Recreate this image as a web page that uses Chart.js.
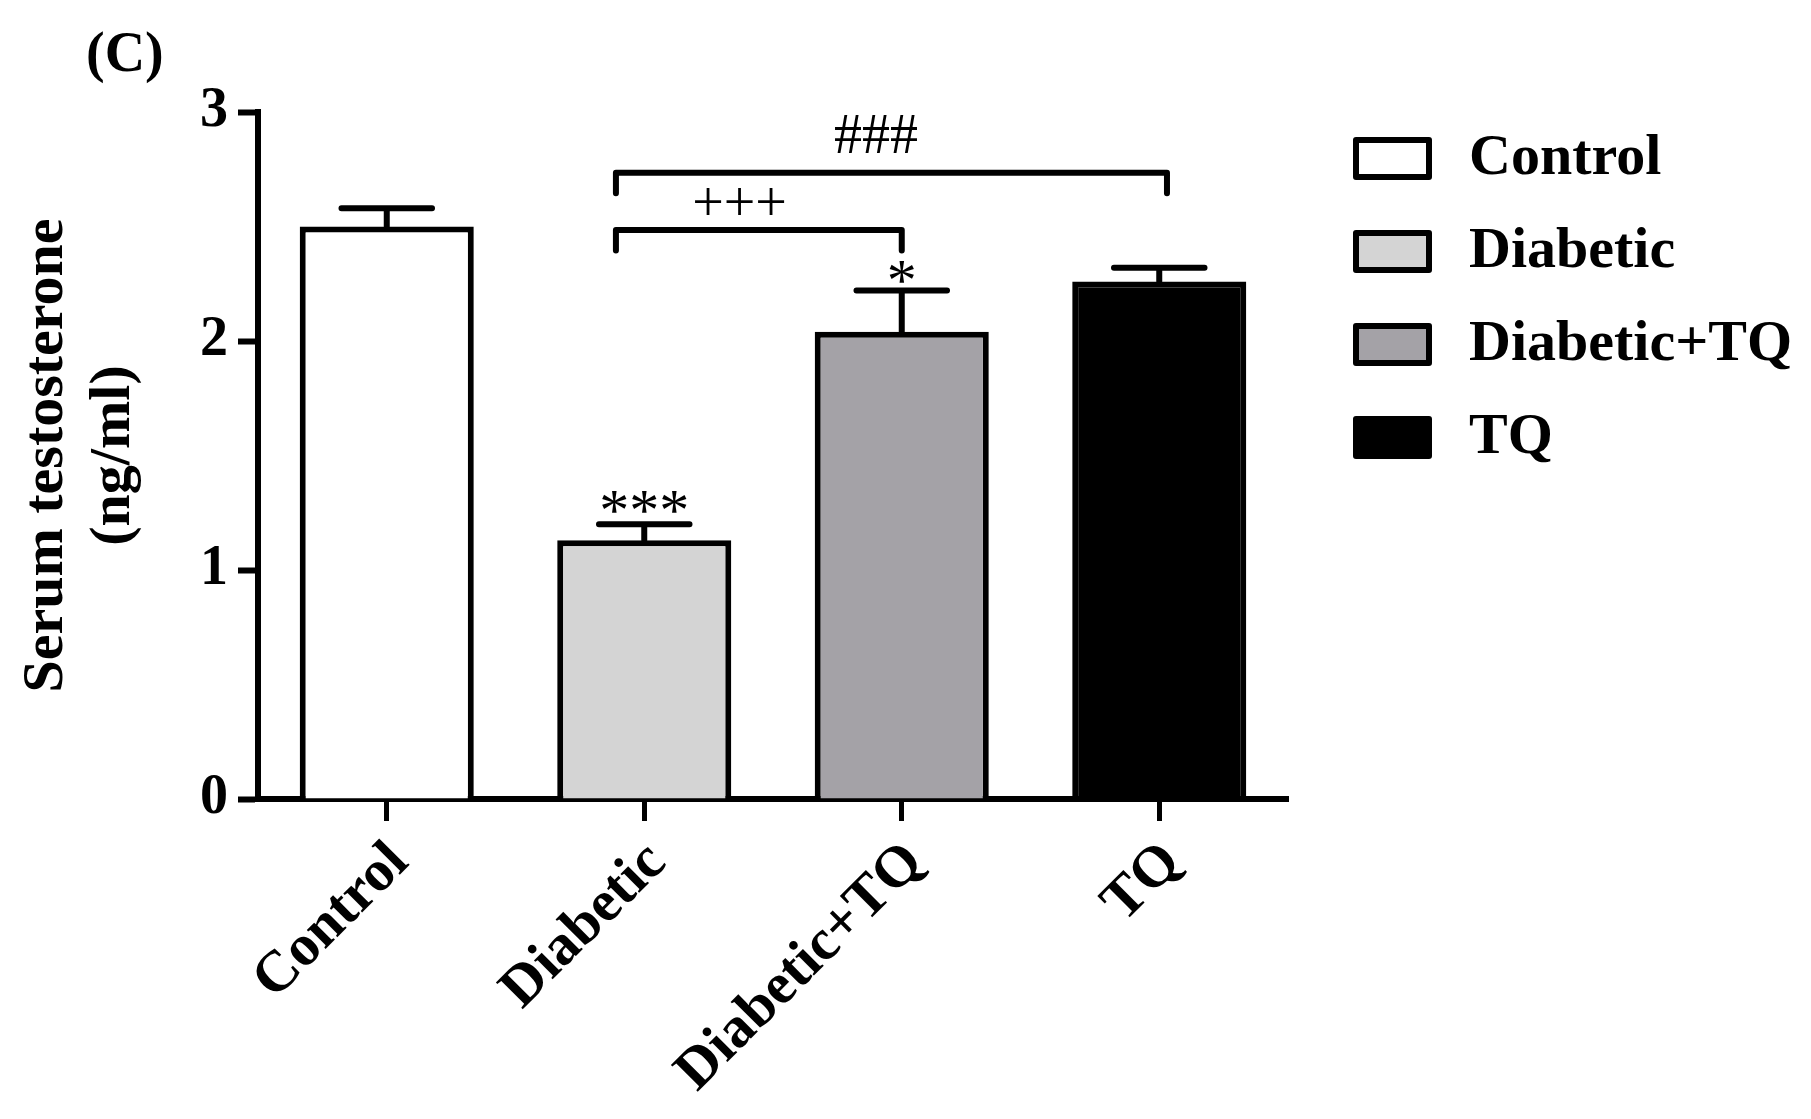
<!DOCTYPE html>
<html lang="en">
<head>
<meta charset="UTF-8">
<title>Serum testosterone</title>
<script src="https://cdn.jsdelivr.net/npm/chart.js@4"></script>
<style>
  html, body { margin: 0; padding: 0; background: #fff; }
  canvas { display: block; }
</style>
</head>
<body>
<canvas id="chart" width="1811" height="1119"></canvas>
<script>
const categories = ['Control', 'Diabetic', 'Diabetic+TQ', 'TQ'];
const means = [2.50, 1.13, 2.04, 2.26];
const sems = [0.08, 0.07, 0.18, 0.06];
const fills = ['#ffffff', '#d4d4d4', '#a4a2a7', '#000000'];
const yTicks = [0, 1, 2, 3];
// asterisks above the error bars: category index, y value, text
const stars = [[1, 1.245, '***'], [2, 2.25, '*']];
// comparison brackets, in category index / y units
const brackets = [
  {from: 0.89, to: 2.0, y: 2.485, leg: 2.395, text: '+++', tx: 1.37, ty: 2.59},
  {from: 0.89, to: 3.03, y: 2.735, leg: 2.645, text: '###', tx: 1.90, ty: 2.885}
];

const FONT = '"Liberation Serif", "Times New Roman", serif';

const marks = {
  id: 'marks',
  afterDatasetsDraw(chart) {
    const {ctx, scales: {x, y}} = chart;
    const meta = chart.getDatasetMeta(0);
    ctx.save();
    ctx.strokeStyle = '#000';
    ctx.fillStyle = '#000';
    ctx.lineWidth = 6;
    ctx.lineCap = 'round';
    ctx.lineJoin = 'round';

    // error bars (upper half only)
    meta.data.forEach((bar, i) => {
      const top = y.getPixelForValue(means[i] + sems[i]);
      const half = bar.width * 0.26;
      ctx.beginPath();
      ctx.moveTo(bar.x, bar.y);
      ctx.lineTo(bar.x, top);
      ctx.moveTo(bar.x - half, top);
      ctx.lineTo(bar.x + half, top);
      ctx.stroke();
    });

    ctx.font = `56px ${FONT}`;
    ctx.textAlign = 'center';
    ctx.textBaseline = 'middle';

    brackets.forEach(b => {
      const x1 = x.getPixelForValue(b.from), x2 = x.getPixelForValue(b.to);
      const yb = y.getPixelForValue(b.y), yl = y.getPixelForValue(b.leg);
      ctx.beginPath();
      ctx.moveTo(x1, yl);
      ctx.lineTo(x1, yb);
      ctx.lineTo(x2, yb);
      ctx.lineTo(x2, yl);
      ctx.stroke();
      ctx.fillText(b.text, x.getPixelForValue(b.tx), y.getPixelForValue(b.ty));
    });

    ctx.font = `60px ${FONT}`;
    stars.forEach(([i, v, t]) => {
      ctx.fillText(t, x.getPixelForValue(i), y.getPixelForValue(v));
    });
    ctx.restore();
  },
  afterDraw(chart) {
    const {ctx, chartArea} = chart;
    ctx.save();
    ctx.strokeStyle = '#000';
    ctx.lineWidth = 6;
    ctx.lineJoin = 'round';
    ctx.font = `bold 58px ${FONT}`;
    ctx.textAlign = 'left';
    ctx.textBaseline = 'middle';
    // legend
    const lx = chartArea.right + 68, ly = chartArea.top + 28;
    categories.forEach((c, i) => {
      const top = ly + i * 93;
      ctx.fillStyle = fills[i];
      ctx.fillRect(lx, top, 73, 37);
      ctx.strokeRect(lx, top, 73, 37);
      ctx.fillStyle = '#000';
      ctx.fillText(c, lx + 113, top + 19);
    });
    // panel letter
    ctx.font = `bold 56px ${FONT}`;
    ctx.textBaseline = 'alphabetic';
    ctx.fillText('(C)', 86, 71);
    ctx.restore();
  }
};

new Chart(document.getElementById('chart'), {
  type: 'bar',
  data: {
    labels: categories,
    datasets: [{
      data: means,
      backgroundColor: fills,
      borderColor: '#000',
      borderWidth: 6,
      borderSkipped: 'start',
      barPercentage: 0.676,
      categoryPercentage: 1
    }]
  },
  options: {
    responsive: false,
    animation: false,
    layout: {padding: {top: 112, right: 523, bottom: 0, left: 0}},
    plugins: {legend: {display: false}, tooltip: {enabled: false}},
    scales: {
      x: {
        grid: {offset: false, drawOnChartArea: false, drawTicks: true, tickLength: 22, tickWidth: 5, tickColor: '#000'},
        border: {display: true, color: '#000', width: 6},
        ticks: {
          color: '#000',
          autoSkip: false,
          minRotation: 45,
          maxRotation: 45,
          padding: 8,
          labelOffset: 13,
          font: {family: FONT, size: 58, weight: 'bold'}
        },
        afterFit: s => { s.height = 320; }
      },
      y: {
        min: 0,
        max: 3,
        afterBuildTicks: s => { s.ticks = yTicks.map(v => ({value: v})); },
        grid: {drawOnChartArea: false, tickLength: 20, tickWidth: 6, tickColor: '#000'},
        border: {color: '#000', width: 6},
        ticks: {color: '#000', padding: 10, font: {family: FONT, size: 56, weight: 'bold'}},
        title: {
          display: true,
          text: ['Serum testosterone', '(ng/ml)'],
          color: '#000',
          font: {family: FONT, size: 58, weight: 'bold', lineHeight: 1.155},
          padding: {top: 14, bottom: 0}
        },
        afterFit: s => { s.width = 258; }
      }
    }
  },
  plugins: [marks]
});
</script>
</body>
</html>
